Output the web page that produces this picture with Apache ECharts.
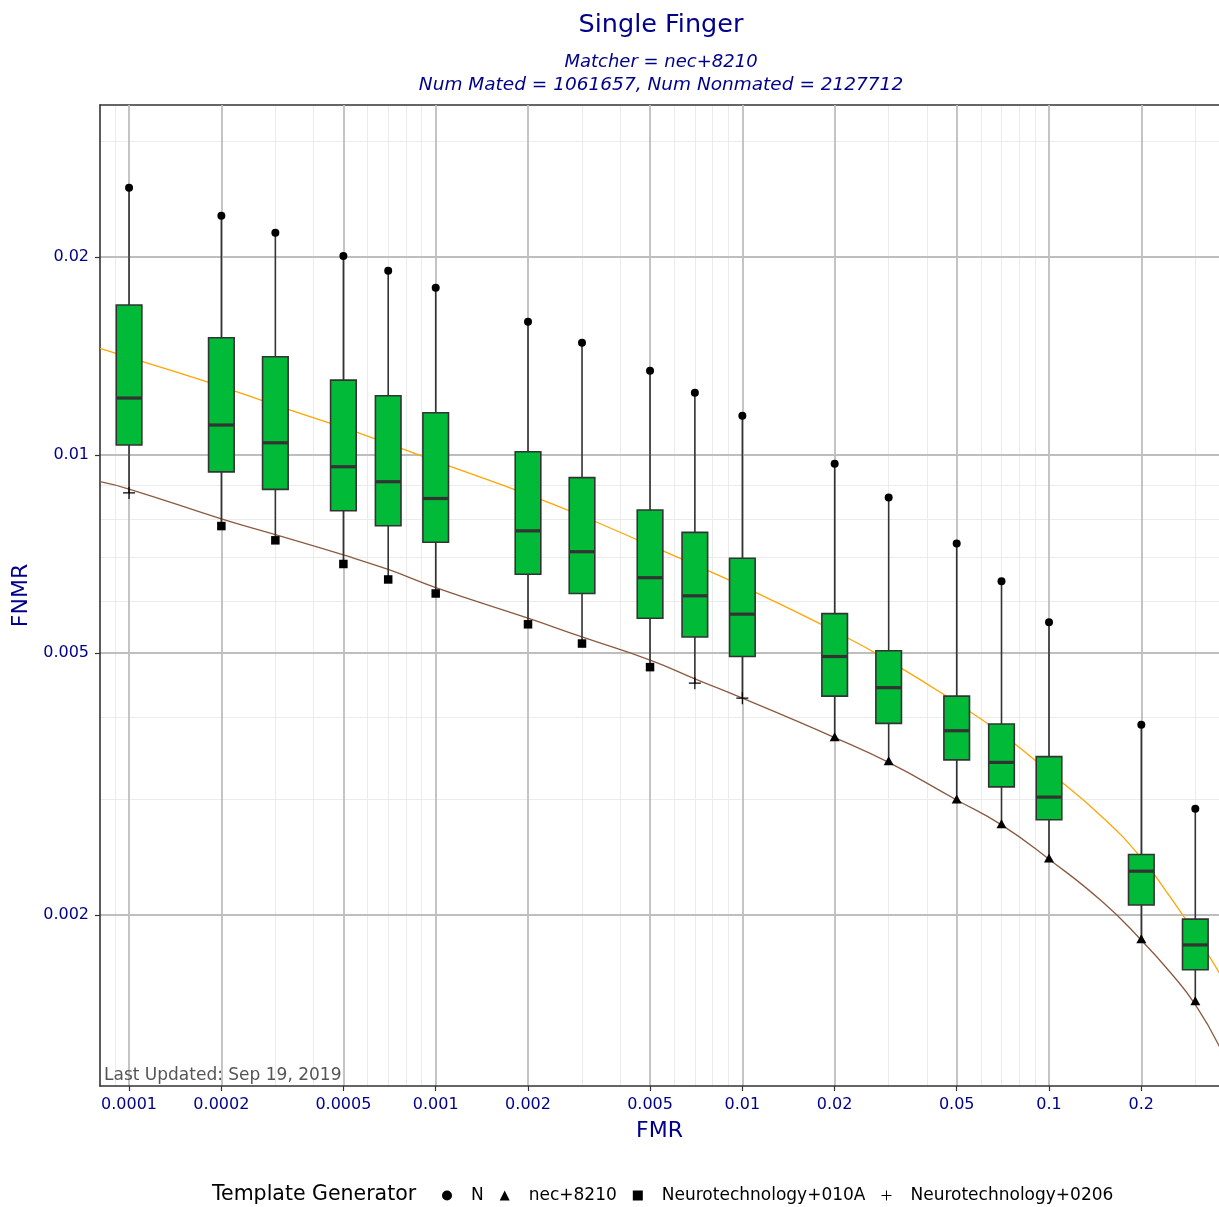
<!DOCTYPE html>
<html>
<head>
<meta charset="utf-8">
<title>Single Finger</title>
<script src="https://cdn.jsdelivr.net/npm/echarts@6/dist/echarts.min.js"></script>
<style>
  html, body { margin: 0; padding: 0; background: #fff; }
  #main { width: 1219px; height: 1207px; }
</style>
</head>
<body>
<div id="main"></div>
<script>
// FMR of each box and the FNMR quantiles
const fmr = [0.0001, 0.0002, 0.0003, 0.0005, 0.0007, 0.001, 0.002, 0.003, 0.005,
  0.007, 0.01, 0.02, 0.03, 0.05, 0.07, 0.1, 0.2, 0.3]
const whiskerHigh = [0.02549, 0.02311, 0.02178, 0.02007, 0.01906, 0.01796, 0.01595, 0.01482, 0.01343,
  0.01244, 0.01148, 0.00970, 0.00862, 0.00734, 0.00643, 0.00557, 0.00389, 0.00290]
const q3 = [0.01691, 0.01508, 0.01411, 0.01300, 0.01231, 0.01160, 0.01012, 0.00924, 0.00825,
  0.00763, 0.00697, 0.00574, 0.00504, 0.00430, 0.00390, 0.00348, 0.00247, 0.00197]
const median = [0.01221, 0.01111, 0.01044, 0.00960, 0.00911, 0.00859, 0.00767, 0.00713, 0.00651,
  0.00611, 0.00573, 0.00494, 0.00443, 0.00381, 0.00341, 0.00302, 0.00233, 0.00180]
const q1 = [0.01036, 0.00943, 0.00887, 0.00823, 0.00781, 0.00737, 0.00659, 0.00616, 0.00565,
  0.00529, 0.00494, 0.00430, 0.00391, 0.00344, 0.00313, 0.00279, 0.00207, 0.00165]
const whiskerLow = [0.00876, 0.00780, 0.00742, 0.00683, 0.00647, 0.00616, 0.00553, 0.00517, 0.00476,
  0.00450, 0.00427, 0.00373, 0.00343, 0.00300, 0.00275, 0.00244, 0.00184, 0.00148]
// template generator at the top and at the bottom of every whisker
const highGenerator = fmr.map(() => 'N')
const lowGenerator = ['Neurotechnology+0206',
  'Neurotechnology+010A', 'Neurotechnology+010A', 'Neurotechnology+010A', 'Neurotechnology+010A',
  'Neurotechnology+010A', 'Neurotechnology+010A', 'Neurotechnology+010A', 'Neurotechnology+010A',
  'Neurotechnology+0206', 'Neurotechnology+0206',
  'nec+8210', 'nec+8210', 'nec+8210', 'nec+8210', 'nec+8210', 'nec+8210', 'nec+8210']

// the two DET curves
const curveFmr = [0.0000804, 0.0001, 0.0002, 0.0003, 0.0005, 0.0007, 0.001, 0.002, 0.003, 0.005, 0.007,
  0.01, 0.02, 0.03, 0.05, 0.07, 0.1, 0.15, 0.2, 0.25, 0.3, 0.36]
const orangeFnmr = [0.01453, 0.01408, 0.01271, 0.01191, 0.01101, 0.01041, 0.00979, 0.00871, 0.00808, 0.00729, 0.00681,
  0.00632, 0.00540, 0.00487, 0.00420, 0.00377, 0.00330, 0.00281, 0.00244, 0.00212, 0.00187, 0.00163]
const brownFnmr = [0.00911, 0.00888, 0.00800, 0.00757, 0.00705, 0.00670, 0.00629, 0.00565, 0.00529, 0.00488, 0.00457,
  0.00427, 0.00372, 0.00341, 0.00299, 0.00274, 0.00243, 0.00209, 0.00183, 0.00163, 0.00146, 0.00126]

// axis ticks and grid
const xTickLabels = ['0.0001', '0.0002', '0.0005', '0.001', '0.002', '0.005', '0.01', '0.02', '0.05', '0.1', '0.2']
const yTickLabels = ['0.002', '0.005', '0.01', '0.02']
const xMinorGrid = [0.00009, 0.0003, 0.0004, 0.0006, 0.0007, 0.0008, 0.0009, 0.003, 0.004, 0.006, 0.007,
  0.008, 0.009, 0.03, 0.04, 0.06, 0.07, 0.08, 0.09, 0.3]
const yMinorGrid = [0.003, 0.004, 0.006, 0.007, 0.008, 0.009, 0.03]
const xRange = [0.0000804, 0.3584]
const yRange = [0.0010985, 0.03406]

const generators = ['N', 'nec+8210', 'Neurotechnology+010A', 'Neurotechnology+0206']
const PLUS = 'path://M5.4,0H6.6V5.4H12V6.6H6.6V12H5.4V6.6H0V5.4H5.4Z'
const symbols = { 'N': 'circle', 'nec+8210': 'triangle', 'Neurotechnology+010A': 'rect', 'Neurotechnology+0206': PLUS }
const symbolSizes = { 'N': 8, 'nec+8210': [10, 9], 'Neurotechnology+010A': 8.5, 'Neurotechnology+0206': 12 }

const FONT = 'DejaVu Sans'
const BLUE = '#00008B'
const lg = v => Math.log10(v)

// both axes are drawn in log10 space
const xTickLog = xTickLabels.map(s => lg(+s))
const yTickLog = yTickLabels.map(s => lg(+s))
function tickLabel (labels, logs) {
  return v => {
    const i = logs.findIndex(t => Math.abs(t - v) < 1e-6)
    return i >= 0 ? labels[i] : ''
  }
}

var boxData = fmr.map((f, i) => [lg(f), lg(whiskerLow[i]), lg(q1[i]), lg(median[i]), lg(q3[i]), lg(whiskerHigh[i])])

function renderBox (params, api) {
  var x = api.value(0)
  var pLow = api.coord([x, api.value(1)])
  var pQ1 = api.coord([x, api.value(2)])
  var pMed = api.coord([x, api.value(3)])
  var pQ3 = api.coord([x, api.value(4)])
  var pHigh = api.coord([x, api.value(5)])
  var cx = pMed[0]
  var half = 12.8
  var edge = { stroke: '#333333', lineWidth: 1.6 }
  return {
    type: 'group',
    children: [
      { type: 'line', shape: { x1: cx, y1: pQ3[1], x2: cx, y2: pHigh[1] }, style: edge },
      { type: 'line', shape: { x1: cx, y1: pQ1[1], x2: cx, y2: pLow[1] }, style: edge },
      {
        type: 'rect',
        shape: { x: cx - half, y: pQ3[1], width: half * 2, height: pQ1[1] - pQ3[1] },
        style: { fill: '#00BA38', stroke: '#333333', lineWidth: 1.6 }
      },
      { type: 'line', shape: { x1: cx - half, y1: pMed[1], x2: cx + half, y2: pMed[1] }, style: { stroke: '#333333', lineWidth: 3.2 } }
    ]
  }
}

function pointsFor (name) {
  var pts = []
  fmr.forEach((f, i) => {
    if (highGenerator[i] === name) pts.push([lg(f), lg(whiskerHigh[i])])
    if (lowGenerator[i] === name) pts.push([lg(f), lg(whiskerLow[i])])
  })
  return pts
}

var myChart = echarts.init(document.getElementById('main'), null, { renderer: 'canvas' })

var xBase = { type: 'value', min: lg(xRange[0]), max: lg(xRange[1]), gridIndex: 0 }
var yBase = { type: 'value', min: lg(yRange[0]), max: lg(yRange[1]), gridIndex: 0 }
// invisible ticks, they only carry the positions of the light grid lines
var hiddenTick = vals => ({ show: true, length: 0, customValues: vals.map(lg), lineStyle: { color: 'rgba(0,0,0,0)', width: 0 } })

var option = {
  backgroundColor: '#ffffff',
  animation: false,
  grid: { left: 100, top: 105, width: 1119, height: 981, containLabel: false },
  graphic: [
    { type: 'text', x: 661, y: 25, style: { text: 'Single Finger', font: '25.5px "DejaVu Sans"', fill: BLUE, align: 'center', verticalAlign: 'middle' } },
    { type: 'text', x: 661, y: 62, style: { text: 'Matcher = nec+8210', font: 'italic 18px "DejaVu Sans"', fill: BLUE, align: 'center', verticalAlign: 'middle' } },
    { type: 'text', x: 661, y: 85, style: { text: 'Num Mated = 1061657, Num Nonmated = 2127712', font: 'italic 18.5px "DejaVu Sans"', fill: BLUE, align: 'center', verticalAlign: 'middle' } },
    { type: 'text', x: 104, y: 1076, z: 10, style: { text: 'Last Updated: Sep 19, 2019', font: '17px "DejaVu Sans"', fill: '#555555', align: 'left', verticalAlign: 'middle' } },
    { type: 'text', x: 212, y: 1195, style: { text: 'Template Generator', font: '20.5px "DejaVu Sans"', fill: '#000000', align: 'left', verticalAlign: 'middle' } }
  ],
  legend: {
    left: 437,
    top: 1182,
    orient: 'horizontal',
    itemWidth: 10,
    itemHeight: 10,
    itemGap: 16,
    selectedMode: false,
    textStyle: { fontFamily: FONT, fontSize: 17, color: '#000000', padding: [0, 0, 0, 14] },
    data: generators.map(g => ({ name: g, icon: symbols[g] }))
  },
  xAxis: [
    Object.assign({}, xBase, {
      position: 'bottom',
      z: 1,
      name: 'FMR',
      nameLocation: 'middle',
      nameGap: 34,
      nameTextStyle: { fontFamily: FONT, fontSize: 22, color: BLUE },
      axisLine: { show: true, onZero: false, lineStyle: { color: '#333333', width: 1.6 } },
      axisTick: { show: true, length: 5, customValues: xTickLog, lineStyle: { color: '#333333', width: 1.2 } },
      axisLabel: { customValues: xTickLog, formatter: tickLabel(xTickLabels, xTickLog), color: BLUE, fontFamily: FONT, fontSize: 16, margin: 11 },
      splitLine: { show: true, lineStyle: { color: '#BEBEBE', width: 1.8 } }
    }),
    Object.assign({}, xBase, {
      position: 'top',
      z: 0,
      axisLine: { show: true, onZero: false, lineStyle: { color: '#333333', width: 1.6 } },
      axisTick: hiddenTick(xMinorGrid),
      axisLabel: { show: false, customValues: xMinorGrid.map(lg) },
      splitLine: { show: true, lineStyle: { color: '#EBEBEB', width: 1 } }
    })
  ],
  yAxis: [
    Object.assign({}, yBase, {
      position: 'left',
      z: 1,
      name: 'FNMR',
      nameLocation: 'middle',
      nameRotate: 90,
      nameGap: 68,
      nameTextStyle: { fontFamily: FONT, fontSize: 22, color: BLUE },
      axisLine: { show: true, onZero: false, lineStyle: { color: '#333333', width: 1.6 } },
      axisTick: { show: true, length: 5, customValues: yTickLog, lineStyle: { color: '#333333', width: 1.2 } },
      axisLabel: { customValues: yTickLog, formatter: tickLabel(yTickLabels, yTickLog), color: BLUE, fontFamily: FONT, fontSize: 16, margin: 11 },
      splitLine: { show: true, lineStyle: { color: '#BEBEBE', width: 1.8 } }
    }),
    Object.assign({}, yBase, {
      position: 'right',
      z: 0,
      axisLine: { show: false },
      axisTick: hiddenTick(yMinorGrid),
      axisLabel: { show: false, customValues: yMinorGrid.map(lg) },
      splitLine: { show: true, lineStyle: { color: '#EBEBEB', width: 1 } }
    })
  ],
  series: [
    {
      type: 'line',
      name: 'orange curve',
      data: curveFmr.map((f, i) => [lg(f), lg(orangeFnmr[i])]),
      showSymbol: false,
      smooth: 0.5,
      z: 2,
      lineStyle: { color: '#FFA500', width: 1.3 },
      itemStyle: { color: '#FFA500' }
    },
    {
      type: 'line',
      name: 'brown curve',
      data: curveFmr.map((f, i) => [lg(f), lg(brownFnmr[i])]),
      showSymbol: false,
      smooth: 0.5,
      z: 2,
      lineStyle: { color: '#8B5A40', width: 1.3 },
      itemStyle: { color: '#8B5A40' }
    },
    {
      type: 'custom',
      name: 'boxes',
      renderItem: renderBox,
      encode: { x: 0, y: [1, 2, 3, 4, 5] },
      data: boxData,
      z: 3
    }
  ].concat(generators.map(g => ({
    type: 'scatter',
    name: g,
    symbol: symbols[g],
    symbolSize: symbolSizes[g],
    data: pointsFor(g),
    z: 4,
    itemStyle: { color: '#000000', opacity: 1 }
  })))
}

myChart.setOption(option)
</script>
</body>
</html>
